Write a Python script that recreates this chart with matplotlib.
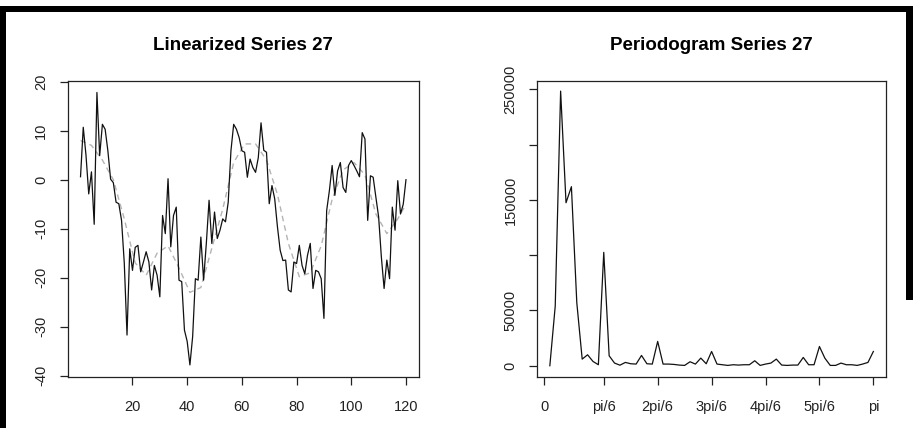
import numpy as np
import matplotlib
matplotlib.use('Agg')
import matplotlib.pyplot as plt
from matplotlib.patches import Rectangle

plt.rcParams['font.family'] = ['Liberation Sans', 'DejaVu Sans']

# linearized series (t = 1..120)
series = [0.6, 10.7, 5, -2.9, 1.6, -9.1, 17.8, 4.9, 11.3, 10.3,
          5.9, 0.1, -0.6, -4.6, -4.9, -8.3, -17, -31.7, -14.1, -18.5,
          -13.8, -13.4, -18.8, -16.8, -14.7, -16.8, -22.5, -17.5, -19.5, -23.9,
          -7.3, -11.0, 0.2, -13.7, -7.3, -5.6, -20.5, -20.8, -30.7, -33.0,
          -37.8, -32.0, -20.2, -20.5, -11.7, -20.5, -13.0, -4.2, -13.0, -6.6,
          -12.0, -10.3, -8.0, -8.6, -4.6, 5.9, 11.3, 10.3, 8.6, 5.9,
          5.6, 0.5, 4.2, 2.5, 1.5, 4.5, 11.6, 6.0, 5.6, -4.9,
          -1.2, -3.9, -9.6, -14.4, -16.5, -16.4, -22.5, -22.9, -16.8, -17.1,
          -13.4, -17.5, -19.2, -15.4, -13.0, -22.2, -18.5, -18.8, -20.2, -28.3,
          -6.3, -2.2, 2.9, -3.2, 1.8, 3.5, -1.6, -2.6, 2.9, 3.9,
          2.9, 1.8, 0.6, 9.6, 8.3, -8.3, 0.8, 0.5, -3.6, -7.6,
          -15.8, -22.2, -16.4, -20.2, -5.6, -10.3, -0.2, -7, -5, 0]
t = np.arange(1, len(series) + 1)

# smoothed curve (dashed grey), read at every 4th point
smooth_t = [1, 5, 9, 13, 17, 21, 25, 29, 33, 37, 41, 45, 49, 53, 57, 61,
            65, 69, 73, 77, 81, 85, 89, 93, 97, 101, 105, 109, 113, 117, 120]
smooth_v = [8, 7, 4, 0, -8, -17, -19.5, -15, -13.5, -18, -23, -22, -14, -6, 3.5, 7.3,
            7.3, 4, -3, -13, -19.8, -19, -13.5, -4, 2, 3.5, 1, -7, -11, -8, -5]

# periodogram ordinates, k = 0..60
pgram = [0, 54000, 248500, 147500, 162000, 57000, 6000, 9900, 3900, 900,
         102600, 9000, 2400, 500, 3000, 1800, 1500, 9300, 1800, 1500,
         22000, 1500, 1500, 1200, 600, 300, 3600, 1500, 6900, 1800,
         12900, 1500, 900, 300, 900, 600, 900, 900, 4500, 300,
         1500, 2400, 6000, 600, 300, 600, 600, 7500, 900, 900,
         17400, 6900, 300, 300, 2400, 900, 900, 300, 1500, 3000, 12900]
k = np.arange(len(pgram))

left_yticks = [20, 10, 0, -10, -20, -30, -40]
left_xticks = [20, 40, 60, 80, 100, 120]
right_xpos = [-1, 10, 20, 30, 40, 50, 60]
right_xlabels = ['0', 'pi/6', '2pi/6', '3pi/6', '4pi/6', '5pi/6', 'pi']
right_yticks = [0, 50000, 100000, 150000, 200000, 250000]
right_ylabels = ['0', '50000', '', '150000', '', '250000']

W, H = 913, 428
fig = plt.figure(figsize=(W / 100, H / 100), dpi=100)

bot = (H - 376.7) / H
hgt = 296.0 / H
ax1 = fig.add_axes([67.5 / W, bot, (419 - 67.5) / W, hgt])
ax2 = fig.add_axes([536.9 / W, bot, (886.3 - 536.9) / W, hgt])

ax1.plot(smooth_t, smooth_v, color='#b4b4b4', lw=1.0, ls=(0, (4, 3)))
ax1.plot(t, series, color='#111111', lw=0.9)
ax1.set_xlim(-3.76, 124.76)
ax1.set_ylim(-40.2, 20.2)
ax1.set_xticks(left_xticks)
ax1.set_xticklabels([str(v) for v in left_xticks])
ax1.set_yticks(left_yticks)
ax1.set_yticklabels([str(v) for v in left_yticks], rotation=90, va='center')
ax1.set_title('Linearized Series 27', fontsize=13.5, fontweight='bold', pad=22)

ax2.plot(k, pgram, color='#111111', lw=0.9)
ax2.set_xlim(-2.4, 62.4)
ax2.set_ylim(-9920, 257920)
ax2.set_xticks(right_xpos)
ax2.set_xticklabels(right_xlabels)
ax2.set_yticks(right_yticks)
ax2.set_yticklabels(right_ylabels, rotation=90, va='center')
ax2.set_title('Periodogram Series 27', fontsize=13.5, fontweight='bold', pad=22)

for ax in (ax1, ax2):
    for s in ax.spines.values():
        s.set_linewidth(0.9)
        s.set_color('#222222')
    ax.tick_params(direction='out', length=6, width=0.9, color='#222222',
                   labelsize=10.5, labelcolor='#222222')
    ax.tick_params(axis='x', pad=11)
    ax.tick_params(axis='y', pad=8)

# black frame of the scanned page
fig.add_artist(Rectangle((0, 0), 6 / W, (H - 10) / H, transform=fig.transFigure,
                         color='black', lw=0))
fig.add_artist(Rectangle((0, (H - 12) / H), 1, 6 / H, transform=fig.transFigure,
                         color='black', lw=0))
fig.add_artist(Rectangle((906 / W, (H - 300) / H), 7 / W, 294 / H,
                         transform=fig.transFigure, color='black', lw=0))

fig.savefig('out.png', dpi=100)
